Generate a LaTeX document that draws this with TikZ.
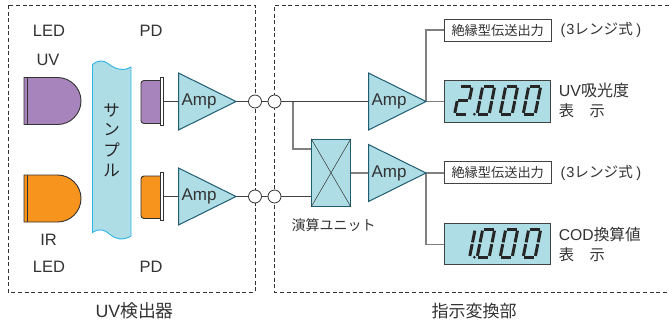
\documentclass[tikz,border=0pt]{standalone}
\usepackage{fontspec}
\setmainfont{Liberation Sans}
\newfontfamily\jp{Noto Sans CJK JP}
\definecolor{cyanfill}{HTML}{AEDDE5}
\definecolor{tealline}{HTML}{1F5C72}
\definecolor{sampleline}{HTML}{2DB4E6}
\definecolor{uvpurple}{HTML}{A884BC}
\definecolor{irorange}{HTML}{F7941D}
\definecolor{wiregray}{HTML}{808080}
\definecolor{inkgray}{HTML}{333333}
\newcommand{\fs}[1]{\fontsize{#1}{#1}\selectfont}
\newcommand{\ampshape}[1]{\draw[ampstyle] (#1top) -- (#1out) -- (#1bot) -- cycle;}
\newcommand{\segA}{\draw[segstyle] (0.9,-27.5) -- (11.1,-27.5);}
\newcommand{\segB}{\draw[segstyle] (12,-26.4) -- (12,-14.6);}
\newcommand{\segC}{\draw[segstyle] (12,-12.9) -- (12,-1.1);}
\newcommand{\segD}{\draw[segstyle] (0.9,0) -- (11.1,0);}
\newcommand{\segE}{\draw[segstyle] (0,-12.9) -- (0,-1.1);}
\newcommand{\segF}{\draw[segstyle] (0,-26.4) -- (0,-14.6);}
\newcommand{\segG}{\draw[segstyle] (0.9,-13.75) -- (11.1,-13.75);}
\newcommand{\digitzero}[2]{\begin{scope}[shift={(#1,#2)},xslant=0.2]\segA\segB\segC\segD\segE\segF\end{scope}}
\newcommand{\digittwo}[2]{\begin{scope}[shift={(#1,#2)},xslant=0.2]\segA\segB\segG\segE\segD\end{scope}}
\newcommand{\digitone}[2]{\begin{scope}[shift={(#1,#2)},xslant=0.2]\segB\segC\end{scope}}
\tikzset{
  x=1pt,y=-1pt,
  frame/.style={draw=inkgray,line width=0.8pt,dash pattern=on 4pt off 2.6pt},
  ampstyle/.style={draw=tealline,line width=1pt,fill=cyanfill,line join=miter},
  wire/.style={draw=wiregray,line width=1.2pt},
  darkwire/.style={draw=inkgray!80!gray,line width=1pt},
  junction/.style={circle,draw=inkgray,line width=0.8pt,fill=white,minimum size=13pt,inner sep=0pt},
  plate/.style={rectangle,draw=inkgray,line width=0.9pt,fill=white,minimum width=3.6pt,minimum height=47.5pt,inner sep=0pt},
  ledbody/.style={draw=inkgray,line width=0.9pt},
  label/.style={inner sep=0pt,text=inkgray},
  outbox/.style={rectangle,draw=inkgray!80!gray,line width=0.9pt,fill=white,minimum width=106.5pt,minimum height=22pt,inner sep=0pt,text=inkgray},
  display/.style={rectangle,draw=inkgray!80!gray,line width=1pt,fill=cyanfill,minimum width=106.5pt,minimum height=41.5pt,inner sep=0pt},
  segstyle/.style={draw=black!85,line width=3pt,line cap=butt},
}
\begin{document}
\begin{tikzpicture}
\useasboundingbox (0,0) rectangle (669,322);
% frames
\draw[frame] (8,5) rectangle (255,292);
\draw[frame] (668.5,5) -- (274.5,5) -- (274.5,292) -- (668.5,292);
% LEDs
\fill[uvpurple] (24,77.5) -- (57.5,77.5) arc[start angle=90,end angle=-90,radius=23.5pt] -- (24,124.5) -- cycle;
\draw[ledbody] (24,77.5) -- (57.5,77.5) arc[start angle=90,end angle=-90,radius=23.5pt] -- (24,124.5) -- cycle;
\draw[ledbody] (27.5,77.5) -- (27.5,124.5);
\fill[irorange] (24,175) -- (57.5,175) arc[start angle=90,end angle=-90,radius=23.5pt] -- (24,222) -- cycle;
\draw[ledbody] (24,175) -- (57.5,175) arc[start angle=90,end angle=-90,radius=23.5pt] -- (24,222) -- cycle;
\draw[ledbody] (27.5,175) -- (27.5,222);
% sample
\draw[draw=sampleline,line width=0.9pt,fill=cyanfill] (92.5,64.5) .. controls (97,60.5) and (103,59.5) .. (108,63.5) .. controls (114,68.5) and (123,72) .. (131,67) -- (131,236) .. controls (123,241) and (115,239) .. (110,234.5) .. controls (105,229.5) and (99,228) .. (92.5,232.5) -- cycle;
\node[label,text=black!85,align=center] (sample) at (111.5,142.5) {\jp\fs{16.5}\begin{tabular}{@{}c@{}}サ\\[2.2pt]ン\\[2.2pt]プ\\[2.2pt]ル\end{tabular}};
% photodiodes
\draw[ledbody,fill=uvpurple,rounded corners=3pt] (162,80.5) -- (141,80.5) -- (141,123.5) -- (162,123.5);
\node[plate] (pd1) at (161.8,101.3) {};
\draw[ledbody,fill=irorange,rounded corners=3pt] (162,176) -- (141,176) -- (141,218.5) -- (162,218.5);
\node[plate] (pd2) at (161.8,196.3) {};
% amplifier points
\coordinate (a1top) at (178.5,73); \coordinate (a1bot) at (178.5,130); \coordinate (a1in) at (178.5,101.5); \coordinate (a1out) at (236,101.5);
\coordinate (a2top) at (178.5,168); \coordinate (a2bot) at (178.5,225); \coordinate (a2in) at (178.5,196.5); \coordinate (a2out) at (236,196.5);
\coordinate (a3top) at (368.5,73); \coordinate (a3bot) at (368.5,130); \coordinate (a3in) at (368.5,101.5); \coordinate (a3out) at (426,101.5);
\coordinate (a4top) at (368.5,144.5); \coordinate (a4bot) at (368.5,201.5); \coordinate (a4in) at (368.5,173); \coordinate (a4out) at (426,173);
% junctions
\node[junction] (c1) at (255,101.5) {};
\node[junction] (c2) at (274.5,101.5) {};
\node[junction] (c3) at (255,196.5) {};
\node[junction] (c4) at (274.5,196.5) {};
% computing unit
\node[rectangle,draw=tealline,line width=1.2pt,fill=cyanfill,minimum width=38.5pt,minimum height=67pt,inner sep=0pt] (mx) at (331,172.8) {};
\draw[draw=inkgray,line width=0.5pt] (mx.north west) -- (mx.south east) (mx.north east) -- (mx.south west);
\coordinate (mxa) at (mx.west |- 0,149);
\coordinate (mxb) at (mx.west |- 0,196.5);
\coordinate (j1) at (293,101.5);
% outputs
\node[outbox] (o1) at (497.7,30) {\jp\fs{13.2}絶縁型伝送出力};
\node[display] (d1) at (497.7,101.5) {};
\node[outbox] (o2) at (497.7,172.8) {\jp\fs{13.2}絶縁型伝送出力};
\node[display] (d2) at (497.7,244.2) {};
\coordinate (b1) at (a3out |- o1.west);
\coordinate (b2) at (a4out |- d2.west);
% wires
\draw[darkwire] (pd1.east |- a1in) -- (a1in);
\draw[darkwire] (pd2.east |- a2in) -- (a2in);
\draw[darkwire] (a1out) -- (c1);
\draw[darkwire] (a2out) -- (c3);
\draw[darkwire] (c1) -- (c2);
\draw[darkwire] (c3) -- (c4);
\draw[darkwire] (c2) -- (a3in);
\draw[darkwire] (c4) -- (mxb);
\draw[wire] (j1) |- (mxa);
\draw[wire] (mx.east |- a4in) -- (a4in);
\draw[wire] (a3out) -- (d1.west |- a3out);
\draw[wire] (a3out) -- (b1) -- (o1.west);
\draw[wire] (a4out) -- (o2.west |- a4out);
\draw[wire] (a4out) -- (b2) -- (d2.west);
% amps (over the wires)
\ampshape{a1}\ampshape{a2}\ampshape{a3}\ampshape{a4}
\node[label] (amp1) at (199,101.5) {\fs{17}Amp};
\node[label] (amp2) at (199,196.5) {\fs{17}Amp};
\node[label] (amp3) at (389,101.5) {\fs{17}Amp};
\node[label] (amp4) at (389,173) {\fs{17}Amp};
% seven-segment readings
\digittwo{454.6}{114}
\fill[black!85] (474.3,114.2) circle[radius=1.5pt];
\digitzero{477.2}{114}\digitzero{500.2}{114}\digitzero{523.2}{114}
\digitone{457.6}{257}
\fill[black!85] (474.3,257.2) circle[radius=1.5pt];
\digitzero{477.2}{257}\digitzero{500.2}{257}\digitzero{523.2}{257}
% labels
\node[label] (t1) at (49,31) {\fs{16.5}LED};
\node[label] (t2) at (151,31) {\fs{16.5}PD};
\node[label] (t3) at (48,60) {\fs{16.5}UV};
\node[label] (t4) at (48.5,240) {\fs{16.5}IR};
\node[label] (t5) at (49,267) {\fs{16.5}LED};
\node[label] (t6) at (151,267) {\fs{16.5}PD};
\node[label] (t7) at (134.7,311) {\fs{17.8}UV{\jp 検出器}};
\node[label] (t8) at (474,311) {\jp\fs{17}指示変換部};
\node[label] (t9) at (333.7,225) {\jp\fs{14}演算ユニット};
\node[label,anchor=west] (t10) at (560.5,30) {\fs{14.6}(\hspace{0.8pt}3{\jp レンジ式}\hspace{3.5pt})};
\node[label,anchor=west] (t11) at (560.5,172.8) {\fs{14.6}(\hspace{0.8pt}3{\jp レンジ式}\hspace{3.5pt})};
\node[label,anchor=west] (t12) at (558.7,90) {\fs{16}UV{\jp 吸光度}};
\node[label,anchor=west] (t13) at (558.7,111) {\jp\fs{15.3}表　示};
\node[label,anchor=west] (t14) at (558.7,235) {\fs{15.7}COD{\jp 換算値}};
\node[label,anchor=west] (t15) at (558.7,255) {\jp\fs{15.3}表　示};
\end{tikzpicture}
\end{document}
